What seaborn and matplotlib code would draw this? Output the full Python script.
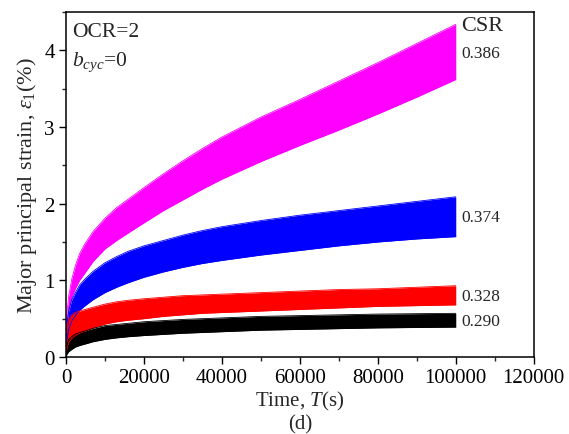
import numpy as np
import pandas as pd
import matplotlib
matplotlib.use('Agg')
import matplotlib.pyplot as plt
import seaborn as sns

# time axis (s)
time_s = [0, 100, 300, 700, 1500, 2400, 3500, 4900, 7000, 10000, 13000, 16000,
          20000, 25000, 30000, 35000, 40000, 50000, 60000, 70000, 80000, 90000, 100000]

# upper / lower envelopes of strain (%) for each CSR
csr_labels = ['0.386', '0.374', '0.328', '0.290']
colors = ['#ff00ff', '#0000ff', '#ff0000', '#000000']
upper_386 = [0, 0.42, 0.60, 0.80, 1.02, 1.19, 1.35, 1.48, 1.64, 1.81, 1.95, 2.06,
             2.21, 2.39, 2.56, 2.72, 2.87, 3.13, 3.36, 3.60, 3.84, 4.09, 4.34]
lower_386 = [0, 0.28, 0.45, 0.62, 0.78, 0.89, 1.00, 1.10, 1.25, 1.41, 1.52, 1.62,
             1.75, 1.91, 2.05, 2.19, 2.32, 2.55, 2.76, 2.96, 3.17, 3.39, 3.62]
upper_374 = [0, 0.30, 0.45, 0.60, 0.75, 0.84, 0.94, 1.02, 1.12, 1.23, 1.31, 1.38,
             1.45, 1.52, 1.59, 1.65, 1.70, 1.78, 1.85, 1.91, 1.97, 2.03, 2.09]
lower_374 = [0, 0.14, 0.25, 0.36, 0.47, 0.54, 0.61, 0.67, 0.75, 0.84, 0.91, 0.97,
             1.04, 1.11, 1.17, 1.22, 1.26, 1.33, 1.39, 1.45, 1.50, 1.54, 1.57]
upper_328 = [0, 0.22, 0.38, 0.49, 0.55, 0.58, 0.60, 0.62, 0.65, 0.69, 0.72, 0.74,
             0.76, 0.78, 0.80, 0.81, 0.82, 0.84, 0.86, 0.88, 0.89, 0.91, 0.93]
lower_328 = [0, 0.06, 0.12, 0.19, 0.24, 0.28, 0.31, 0.34, 0.38, 0.43, 0.46, 0.48,
             0.50, 0.53, 0.55, 0.57, 0.58, 0.60, 0.62, 0.64, 0.66, 0.67, 0.68]
upper_290 = [0, 0.10, 0.17, 0.23, 0.27, 0.30, 0.32, 0.34, 0.375, 0.41, 0.425, 0.44,
             0.46, 0.475, 0.49, 0.50, 0.51, 0.53, 0.54, 0.55, 0.56, 0.565, 0.57]
lower_290 = [0, 0.02, 0.04, 0.07, 0.10, 0.13, 0.15, 0.17, 0.20, 0.23, 0.25, 0.265,
             0.28, 0.295, 0.31, 0.32, 0.33, 0.35, 0.36, 0.37, 0.38, 0.385, 0.39]
label_y = [3.97, 1.82, 0.79, 0.47]  # where the CSR value sits

uppers = [upper_386, upper_374, upper_328, upper_290]
lowers = [lower_386, lower_374, lower_328, lower_290]

sns.set_theme(style='ticks')
plt.rcParams['font.family'] = ['Liberation Serif', 'DejaVu Serif']
plt.rcParams['mathtext.fontset'] = 'custom'
plt.rcParams['mathtext.rm'] = 'Liberation Serif'
plt.rcParams['mathtext.it'] = 'Liberation Serif:italic'

fig = plt.figure(figsize=(5.69, 4.35), dpi=100)
ax = fig.add_axes([0.116, 0.177, 0.822, 0.793])

for lab, col, up, lo in zip(csr_labels, colors, uppers, lowers):
    df = pd.DataFrame({'T': time_s, 'up': up, 'lo': lo})
    ax.fill_between(df['T'], df['lo'], df['up'], color=col, linewidth=0)
    sns.lineplot(data=df, x='T', y='up', color=col, lw=0.6, ax=ax)
    sns.lineplot(data=df, x='T', y='lo', color=col, lw=0.6, ax=ax)

for lab, ly in zip(csr_labels, label_y):
    ax.text(101500, ly, lab, fontsize=12.5, va='center', ha='left')
ax.text(101500, 4.33, 'CSR', fontsize=16, va='center', ha='left')

ax.text(1500, 4.25, 'OCR=2', fontsize=15.5, va='center', ha='left')
ax.text(1500, 3.86, r'$b_{cyc}$=0', fontsize=15.5, va='center', ha='left')

ax.set_xlim(0, 120000)
ax.set_ylim(0, 4.5)
ax.set_xticks(np.arange(0, 120001, 20000))
ax.set_xticks(np.arange(0, 120001, 10000), minor=True)
ax.set_yticks([0, 1, 2, 3, 4])
ax.set_yticks(np.arange(0, 4.51, 0.5), minor=True)
ax.tick_params(axis='both', which='major', direction='out', length=5, width=1,
               labelsize=15, colors='black', pad=3)
ax.tick_params(axis='both', which='minor', direction='out', length=3, width=1)
for sp in ax.spines.values():
    sp.set_visible(True)
    sp.set_linewidth(1.1)
    sp.set_color('black')

ax.set_xlabel(r'Time, $T$(s)', fontsize=15, labelpad=1)
ax.set_ylabel('Major principal strain, $ε_\\mathrm{1}$(%)', fontsize=16, labelpad=4)
fig.text(0.527, 0.023, '(d)', fontsize=15, ha='center', va='center')

fig.savefig('out.png', dpi=100)
